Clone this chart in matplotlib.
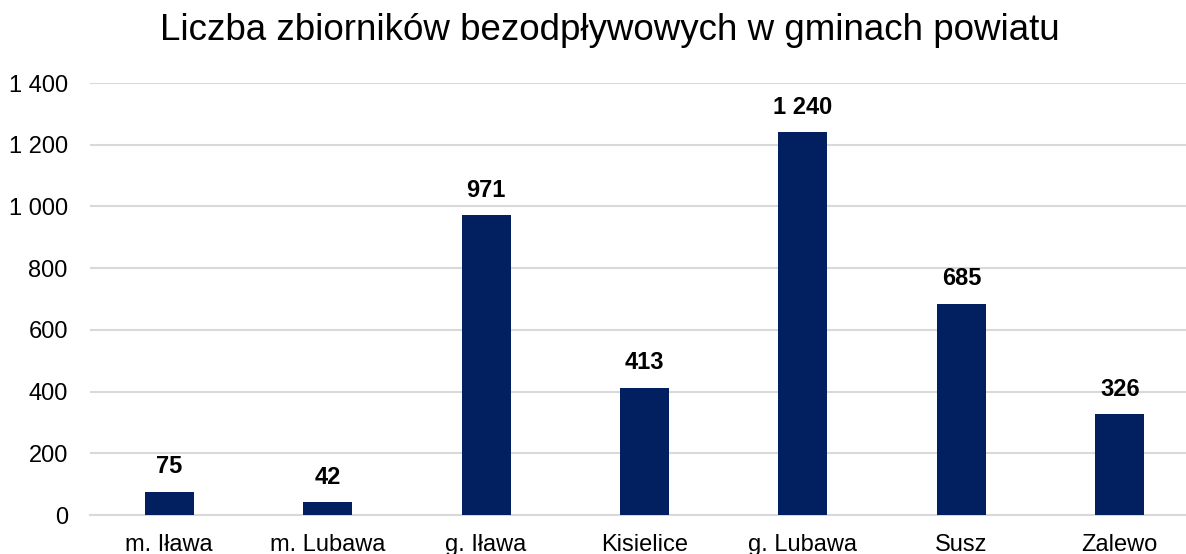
import matplotlib.pyplot as plt
from matplotlib.ticker import FuncFormatter

categories = ['m. Iława', 'm. Lubawa', 'g. Iława', 'Kisielice', 'g. Lubawa', 'Susz', 'Zalewo']
values = [75, 42, 971, 413, 1240, 685, 326]
title = 'Liczba zbiorników bezodpływowych w gminach powiatu'

plt.rcParams['font.family'] = ['Liberation Sans', 'DejaVu Sans']

W, H = 1186, 554
fig = plt.figure(figsize=(W / 100, H / 100), dpi=100)
ax = fig.add_axes([90 / W, 1 - 515 / H, (1199 - 90) / W, (515 - 83) / H])


def fmt(v, pos=None):
    return f"{int(v):,}".replace(',', ' ')


x = range(len(categories))
ax.bar(x, values, width=0.31, color='#022060', zorder=3)
for i, v in zip(x, values):
    ax.annotate(fmt(v), (i, v), xytext=(0, 18), textcoords='offset points',
                ha='center', va='center', fontsize=17, fontweight='bold', color='black')

ax.set_xlim(-0.5, len(categories) - 0.5)
ax.set_ylim(0, 1400)
ax.set_yticks(range(0, 1401, 200))
ax.yaxis.set_major_formatter(FuncFormatter(fmt))
ax.set_xticks(list(x))
ax.set_xticklabels(categories)
ax.tick_params(axis='y', length=0, pad=16, labelsize=17)
ax.tick_params(axis='x', length=0, pad=14, labelsize=17)
ax.grid(axis='y', color='#d9d9d9', linewidth=1.5, zorder=0)
for s in ['top', 'right', 'left']:
    ax.spines[s].set_visible(False)
ax.spines['bottom'].set_color('#d9d9d9')
ax.spines['bottom'].set_linewidth(1.5)

fig.text(610 / W, 1 - 31 / H, title, ha='center', va='center', fontsize=26.5)

fig.savefig('out.png', dpi=100)
